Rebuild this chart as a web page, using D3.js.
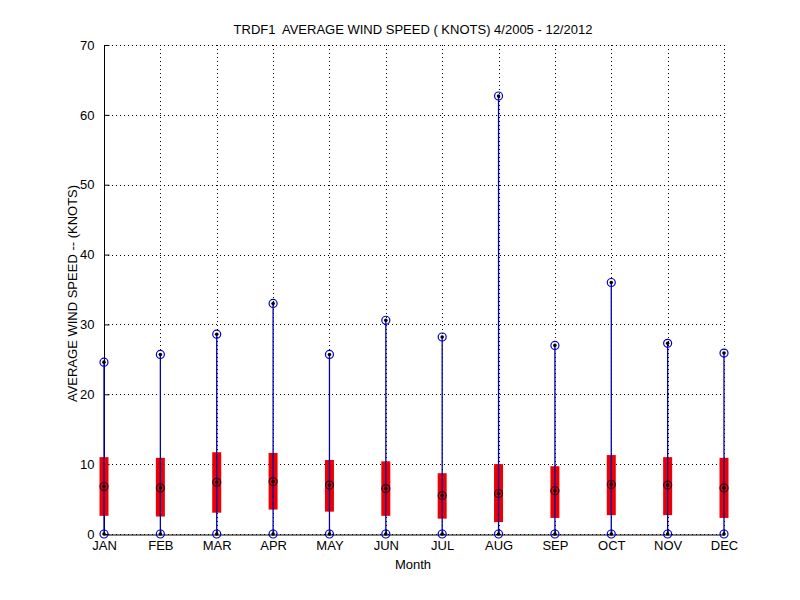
<!DOCTYPE html>
<html>
<head>
<meta charset="utf-8">
<script src="https://cdn.jsdelivr.net/npm/d3@7"></script>
<style>
body { margin: 0; background: #fff; }
svg text { font-family: "Liberation Sans", Arial, sans-serif; font-size: 13px; fill: #000; }
</style>
</head>
<body>
<svg></svg>
<script>
const months = ["JAN", "FEB", "MAR", "APR", "MAY", "JUN", "JUL", "AUG", "SEP", "OCT", "NOV", "DEC"];
const maxSpeed = [24.6, 25.7, 28.6, 33.0, 25.7, 30.6, 28.2, 62.7, 27.0, 36.0, 27.3, 25.9];
const upperQ = [11.0, 10.9, 11.7, 11.6, 10.6, 10.4, 8.7, 10.0, 9.7, 11.3, 11.0, 10.9];
const lowerQ = [2.6, 2.5, 3.05, 3.5, 3.2, 2.6, 2.2, 1.7, 2.3, 2.7, 2.7, 2.3];
const median = [6.8, 6.6, 7.4, 7.5, 7.0, 6.5, 5.5, 5.8, 6.2, 7.1, 7.0, 6.6];
const minSpeed = [0, 0, 0, 0, 0, 0, 0, 0, 0, 0, 0, 0];
const yTicks = [0, 10, 20, 30, 40, 50, 60, 70];

const svg = d3.select("svg").attr("width", 800).attr("height", 600);

const mLeft = 104, mRight = 724, mTop = 45, mBottom = 534;

const x = d3.scaleLinear().domain([1, 12]).range([mLeft, mRight]);
const y = d3.scaleLinear().domain([0, 70]).range([mBottom, mTop]);

// dotted grid
const grid = svg.append("g").attr("stroke", "#000").attr("stroke-dasharray", "1,3").attr("stroke-width", 1);
grid.selectAll("line.h").data(yTicks).join("line")
	.attr("class", "h")
	.attr("x1", mLeft).attr("x2", mRight)
	.attr("y1", (d) => Math.round(y(d)) + 0.5).attr("y2", (d) => Math.round(y(d)) + 0.5);
grid.selectAll("line.v").data(months).join("line")
	.attr("class", "v")
	.attr("y1", mTop).attr("y2", mBottom)
	.attr("x1", (_, i) => Math.round(x(i + 1)) + 0.5).attr("x2", (_, i) => Math.round(x(i + 1)) + 0.5);

const yAxis = d3.axisLeft(y).tickValues(yTicks).tickSize(-5).tickPadding(10);
const xAxis = d3.axisBottom(x).tickValues(d3.range(1, 13)).tickFormat((d) => months[d - 1]).tickSize(-5).tickPadding(6);

const gy = svg.append("g").attr("transform", `translate(${mLeft + 0.5},0)`).call(yAxis);
const gx = svg.append("g").attr("transform", `translate(0,${mBottom + 0.5})`).call(xAxis);
[gy, gx].forEach((g) => {
	g.selectAll("text").style("font-size", "13px").attr("fill", "#000");
	g.selectAll("path, line").attr("stroke", "#000");
});
gy.select(".domain").attr("d", `M0,${mBottom}V${mTop}`);

const plot = svg.append("g");

// boxes
plot.selectAll("rect").data(months).join("rect")
	.attr("x", (_, i) => x(i + 1) - 4.5)
	.attr("width", 9)
	.attr("y", (_, i) => y(upperQ[i]))
	.attr("height", (_, i) => y(lowerQ[i]) - y(upperQ[i]))
	.attr("fill", "#ee0000");

// whiskers
plot.selectAll("line.w").data(months).join("line")
	.attr("class", "w")
	.attr("x1", (_, i) => x(i + 1)).attr("x2", (_, i) => x(i + 1))
	.attr("y1", (_, i) => y(minSpeed[i])).attr("y2", (_, i) => y(maxSpeed[i]))
	.attr("stroke", "#0000b4").attr("stroke-width", 1.3);

function markers(values, ring) {
	const g = plot.append("g");
	g.selectAll("circle.r").data(values).join("circle")
		.attr("class", "r")
		.attr("cx", (_, i) => x(i + 1)).attr("cy", (d) => y(d))
		.attr("r", 4).attr("fill", "none").attr("stroke", ring).attr("stroke-width", 1.2);
	g.selectAll("circle.d").data(values).join("circle")
		.attr("class", "d")
		.attr("cx", (_, i) => x(i + 1)).attr("cy", (d) => y(d))
		.attr("r", 1.8).attr("fill", "#000");
}
markers(maxSpeed, "#0000c8");
markers(minSpeed, "#0000c8");
markers(median, "#300020");

// labels
svg.append("text").attr("x", 413).attr("y", 34).attr("text-anchor", "middle")
	.text("TRDF1\u00a0 AVERAGE WIND SPEED ( KNOTS) 4/2005 - 12/2012");
svg.append("text").attr("x", 413).attr("y", 569).attr("text-anchor", "middle").text("Month");
svg.append("text").attr("transform", `translate(77,${(mTop + mBottom) / 2 + 4}) rotate(-90)`)
	.attr("text-anchor", "middle").text("AVERAGE WIND SPEED -- (KNOTS)");
</script>
</body>
</html>
